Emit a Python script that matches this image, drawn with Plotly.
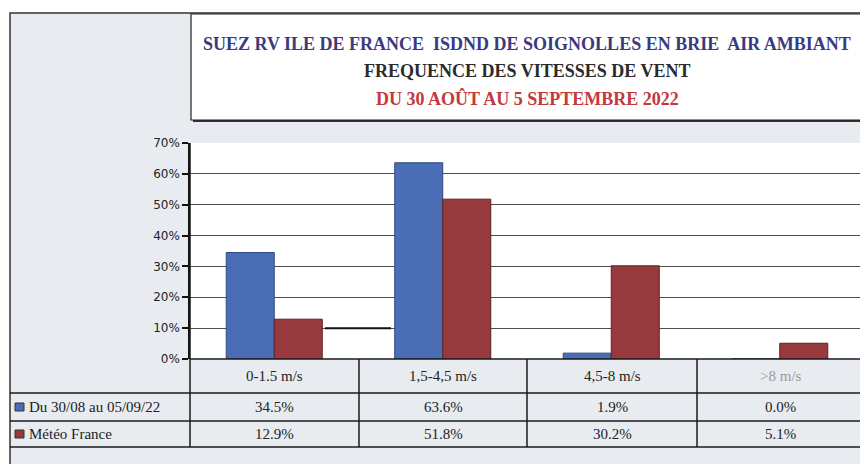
import plotly.graph_objects as go

# ---- data ----
categories = ["0-1.5 m/s", "1,5-4,5 m/s", "4,5-8 m/s", ">8 m/s"]
series_names = ["Du 30/08 au 05/09/22", "Météo France"]
site_values = [34.5, 63.6, 1.9, 0.0]
meteo_values = [12.9, 51.8, 30.2, 5.1]
y_tick_values = [0, 10, 20, 30, 40, 50, 60, 70]
y_tick_labels = ["0%", "10%", "20%", "30%", "40%", "50%", "60%", "70%"]

title_lines = [
    "SUEZ RV ILE DE FRANCE  ISDND DE SOIGNOLLES EN BRIE  AIR AMBIANT",
    "FREQUENCE DES VITESSES DE VENT",
    "DU 30 AOÛT AU 5 SEPTEMBRE 2022",
]

BLUE = "#4a6db5"
RED = "#963a3e"

OFF = 8  # default page margin of the html body
PLOT_LEFT, PLOT_RIGHT, PLOT_TOP, PLOT_BOTTOM = 190, 864, 143, 359  # page pixels
W, H = 868 - OFF, 464 - OFF
L = PLOT_LEFT - OFF
T = PLOT_TOP - OFF
R = W - (PLOT_RIGHT - OFF)
B = H - (PLOT_BOTTOM - OFF)
PW = PLOT_RIGHT - PLOT_LEFT
PH = PLOT_BOTTOM - PLOT_TOP


def X(px):
    return (px - PLOT_LEFT) / PW


def Y(py):
    return (PLOT_BOTTOM - py) / PH


fig = go.Figure()
fig.add_trace(go.Bar(x=categories, y=site_values, name=series_names[0],
                     marker=dict(color=BLUE, line=dict(color="#2f4a80", width=1))))
fig.add_trace(go.Bar(x=categories, y=meteo_values, name=series_names[1],
                     marker=dict(color=RED, line=dict(color="#5e2326", width=1))))

shapes = []
# outer frame background
shapes.append(dict(type="rect", xref="paper", yref="paper", layer="below",
                   x0=X(10), x1=X(866), y0=Y(470), y1=Y(13),
                   fillcolor="#e8ecf1", line=dict(color="#333", width=1.5)))
# title box shadow + box
shapes.append(dict(type="rect", xref="paper", yref="paper", layer="below",
                   x0=X(193), x1=X(864), y0=Y(122), y1=Y(16),
                   fillcolor="#333", line=dict(width=0)))
shapes.append(dict(type="rect", xref="paper", yref="paper", layer="below",
                   x0=X(191), x1=X(862), y0=Y(120), y1=Y(14),
                   fillcolor="white", line=dict(color="#222", width=1.2)))
# white plot background over tinted frame
shapes.append(dict(type="rect", xref="paper", yref="paper", layer="below",
                   x0=0, x1=1, y0=0, y1=1, fillcolor="white", line=dict(width=0)))

line_style = dict(color="#1a1a1a", width=1.5)
# horizontal table lines
for py, x_start in [(359, 190), (393, 10), (421, 10), (447, 10)]:
    shapes.append(dict(type="line", xref="paper", yref="paper",
                       x0=X(x_start), x1=X(864), y0=Y(py), y1=Y(py), line=line_style))
# vertical table lines
for px, y_top in [(190, 143), (359, 359), (527, 359), (697, 359), (864, 143)]:
    shapes.append(dict(type="line", xref="paper", yref="paper",
                       x0=X(px), x1=X(px), y0=Y(y_top), y1=Y(447),
                       line=line_style if px != 864 else dict(color="#888", width=1.2)))
# dark segment at the 10% gridline
shapes.append(dict(type="line", xref="paper", yref="y",
                   x0=X(325), x1=X(391), y0=10, y1=10, line=dict(color="#111", width=2)))
# legend swatches
for py, col in [(407, BLUE), (434, RED)]:
    shapes.append(dict(type="rect", xref="paper", yref="paper",
                       x0=X(15), x1=X(24), y0=Y(py + 4), y1=Y(py - 4),
                       fillcolor=col, line=dict(color="#333", width=1)))

annotations = []
title_colors = ["#3a3a80", "#2b2b2b", "#c3383d"]
for i, (txt, col) in enumerate(zip(title_lines, title_colors)):
    annotations.append(dict(text=f"<b>{txt}</b>", xref="paper", yref="paper",
                            x=X(527), y=Y(44 + 27 * i), showarrow=False,
                            xanchor="center", yanchor="middle",
                            font=dict(family="Liberation Serif", size=18, color=col)))

col_centers = [274.5, 443, 612, 780.5]
cell_font = dict(family="Liberation Serif", size=15, color="#222")
for c, cat in enumerate(categories):
    annotations.append(dict(text=cat, xref="paper", yref="paper", x=X(col_centers[c]), y=Y(376),
                            showarrow=False, xanchor="center", yanchor="middle",
                            font=dict(family="Liberation Serif", size=15,
                                      color="#222" if c < 3 else "#9a9a9a")))
    for r, vals in enumerate([site_values, meteo_values]):
        annotations.append(dict(text=f"{vals[c]:.1f}%", xref="paper", yref="paper",
                                x=X(col_centers[c]), y=Y(407 + 27 * r),
                                showarrow=False, xanchor="center", yanchor="middle",
                                font=cell_font))
for r, name in enumerate(series_names):
    annotations.append(dict(text=name, xref="paper", yref="paper", x=X(27), y=Y(407 + 27 * r),
                            showarrow=False, xanchor="left", yanchor="middle", font=cell_font))

fig.update_layout(
    width=W, height=H, autosize=False,
    margin=dict(l=L, r=R, t=T, b=B, pad=0),
    paper_bgcolor="white", plot_bgcolor="white",
    barmode="group", bargap=0.43, bargroupgap=0,
    showlegend=False,
    xaxis=dict(showticklabels=False, showgrid=False, zeroline=False, showline=False,
               ticks=""),
    yaxis=dict(range=[0, 70], tickvals=y_tick_values, ticktext=y_tick_labels,
               showgrid=True, gridcolor="#4d4d4d", gridwidth=1,
               zeroline=False, showline=True, linecolor="#111", linewidth=1.5,
               ticks="outside", ticklen=6, tickcolor="#111", tickwidth=1.5,
               tickfont=dict(family="DejaVu Sans", size=12, color="#222")),
    shapes=shapes, annotations=annotations,
)

fig.write_html("out.html")
